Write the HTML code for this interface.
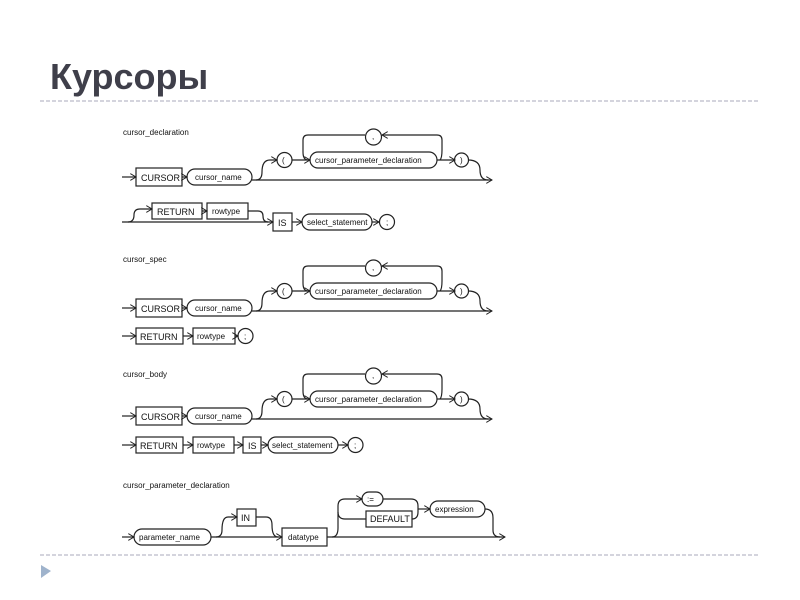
<!DOCTYPE html>
<html><head><meta charset="utf-8"><style>
html,body{margin:0;padding:0;background:#fff;width:800px;height:600px;overflow:hidden}
svg{position:absolute;left:0;top:0}
text{font-family:"Liberation Sans",sans-serif;fill:#111}
.l{font-size:8px}
.k{font-size:9px}
</style></head><body>
<svg width="800" height="600" viewBox="0 0 800 600" xmlns="http://www.w3.org/2000/svg">
<defs><marker id="a" markerWidth="6" markerHeight="6" refX="5" refY="3" orient="auto"><path d="M0,0 L5,3 L0,6" fill="none" stroke="#222" stroke-width="0.8"/></marker></defs>
<text x="50" y="89" style="font-family:'Liberation Sans','DejaVu Sans',sans-serif;font-size:36px;font-weight:bold;fill:#3f3f4a">Курсоры</text>
<line x1="40" y1="101" x2="760" y2="101" stroke="#aab" stroke-dasharray="4,2" stroke-width="1"/>
<line x1="40" y1="555" x2="760" y2="555" stroke="#aab" stroke-dasharray="4,2" stroke-width="1"/>
<polygon points="41,565 51,571 41,578" fill="#9fb3cc"/>

<g stroke="#222" stroke-width="1.2" fill="none">
<g id="r1">
<path d="M122,177 H136" marker-end="url(#a)"/>
<rect x="136" y="168" width="46" height="18"/>
<path d="M182,177 H187" marker-end="url(#a)"/>
<rect x="187" y="169" width="65" height="16" rx="8"/>
<path d="M252,180 H492" marker-end="url(#a)"/>
<path d="M256,180 Q262,180 262,172 Q262,160 270,160 H277" marker-end="url(#a)"/>
<circle cx="284.5" cy="160" r="7.5"/>
<path d="M292,160 H310" marker-end="url(#a)"/>
<rect x="310" y="152" width="127" height="16" rx="8"/>
<path d="M437,160 H455" marker-end="url(#a)"/>
<circle cx="461.5" cy="160" r="7"/>
<path d="M468,160 Q480,160 480,170 Q480,180 488,180"/>
<path d="M440,160 Q442,158 442,150 V140 Q442,135 437,135 H382" marker-end="url(#a)"/>
<circle cx="373.5" cy="137" r="8"/>
<path d="M365,135 H308 Q303,135 303,140 V152 Q303,160 308,160"/>
</g>
<path d="M122,222 H273" marker-end="url(#a)"/>
<path d="M128,222 Q134,222 134,215 Q134,209 140,209 H152" marker-end="url(#a)"/>
<rect x="152" y="203" width="50" height="16"/>
<path d="M202,211 H207" marker-end="url(#a)"/>
<rect x="207" y="203" width="41" height="16"/>
<path d="M248,211 H258 Q263,211 263,216 Q263,222 268,222"/>
<rect x="273" y="213" width="19" height="18"/>
<path d="M292,222 H302" marker-end="url(#a)"/>
<rect x="302" y="214" width="70" height="16" rx="8"/>
<path d="M372,222 H379" marker-end="url(#a)"/>
<circle cx="387" cy="222" r="7.5"/>

<use href="#r1" y="131"/>
<use href="#r1" y="239"/>

<path d="M122,336 H136" marker-end="url(#a)"/>
<rect x="136" y="328" width="47" height="16"/>
<path d="M183,336 H193" marker-end="url(#a)"/>
<rect x="193" y="328" width="42" height="16"/>
<path d="M235,336 H238" marker-end="url(#a)"/>
<circle cx="245.5" cy="336" r="7.5"/>

<path d="M122,445 H136" marker-end="url(#a)"/>
<rect x="136" y="437" width="47" height="16"/>
<path d="M183,445 H193" marker-end="url(#a)"/>
<rect x="193" y="437" width="41" height="16"/>
<path d="M234,445 H243" marker-end="url(#a)"/>
<rect x="243" y="437" width="18" height="16"/>
<path d="M261,445 H268" marker-end="url(#a)"/>
<rect x="268" y="437" width="70" height="16" rx="8"/>
<path d="M338,445 H348" marker-end="url(#a)"/>
<circle cx="355.5" cy="445" r="7.5"/>

<path d="M122,537 H134" marker-end="url(#a)"/>
<rect x="134" y="529" width="77" height="16" rx="8"/>
<path d="M211,537 H282" marker-end="url(#a)"/>
<path d="M216,537 Q222,537 222,530 Q222,517 228,517 H237" marker-end="url(#a)"/>
<rect x="237" y="509" width="19" height="17"/>
<path d="M256,517 H266 Q272,517 272,525 Q272,537 278,537"/>
<rect x="282" y="528" width="45" height="18"/>
<path d="M327,537 H505" marker-end="url(#a)"/>
<path d="M332,537 Q338,537 338,528 V506 Q338,499 345,499 H362" marker-end="url(#a)"/>
<rect x="362" y="492" width="21" height="14" rx="7"/>
<path d="M338,512 Q338,519 345,519 H366"/>
<rect x="366" y="511" width="46" height="16"/>
<path d="M383,499 H411 Q418,499 418,506 V512 Q418,519 412,519"/>
<path d="M418,509 H430" marker-end="url(#a)"/>
<rect x="430" y="501" width="55" height="16" rx="8"/>
<path d="M485,509 Q493,509 493,518 V530 Q493,537 500,537"/>
</g>

<g>
<text class="l" x="123" y="135">cursor_declaration</text>
<text class="l" x="123" y="262">cursor_spec</text>
<text class="l" x="123" y="377">cursor_body</text>
<text class="l" x="123" y="488">cursor_parameter_declaration</text>
<g id="t1">
<text class="k" x="141" y="181">CURSOR</text>
<text class="l" x="195" y="180">cursor_name</text>
<text class="l" x="282" y="163">(</text>
<text class="l" x="315" y="163">cursor_parameter_declaration</text>
<text class="l" x="460" y="163">)</text>
<text class="l" x="372" y="139">,</text>
</g>
<use href="#t1" y="131"/>
<use href="#t1" y="239"/>
<text class="k" x="157" y="215">RETURN</text>
<text class="l" x="212" y="214">rowtype</text>
<text class="k" x="278" y="226">IS</text>
<text class="l" x="307" y="225">select_statement</text>
<text class="l" x="386" y="225">;</text>
<text class="k" x="140" y="340">RETURN</text>
<text class="l" x="197" y="339">rowtype</text>
<text class="l" x="244" y="339">;</text>
<text class="k" x="140" y="449">RETURN</text>
<text class="l" x="197" y="448">rowtype</text>
<text class="k" x="248" y="449">IS</text>
<text class="l" x="272" y="448">select_statement</text>
<text class="l" x="354" y="448">;</text>
<text class="l" x="139" y="540">parameter_name</text>
<text class="k" x="241" y="521">IN</text>
<text class="l" x="288" y="540">datatype</text>
<text class="l" x="367" y="502">:=</text>
<text class="k" x="370" y="522">DEFAULT</text>
<text class="l" x="435" y="512">expression</text>
</g>
</svg>
</body></html>
